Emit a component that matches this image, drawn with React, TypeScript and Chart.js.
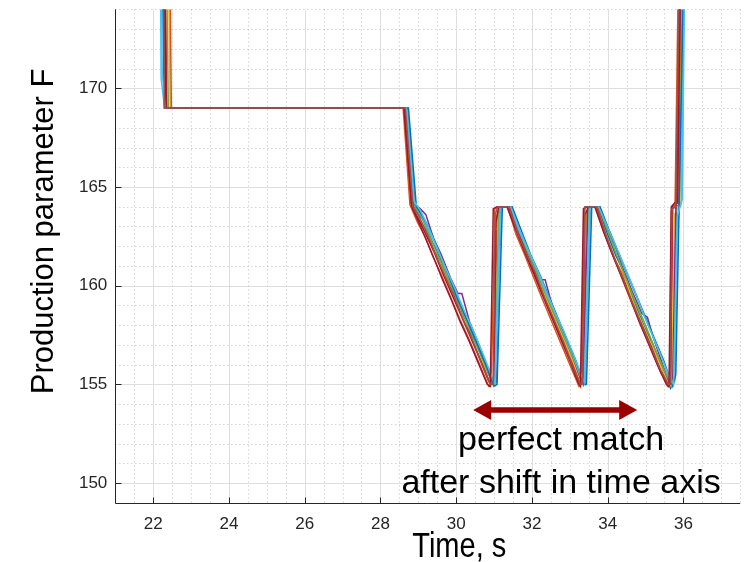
import React, { useEffect, useRef } from "react";
import { Chart, registerables } from "chart.js";

Chart.register(...registerables);

type P = [number, number];

// Axis ranges and tick labels
const X_MIN = 21;
const X_MAX = 37.5;
const Y_MIN = 149;
const Y_MAX = 174;
const xTicks = [22, 24, 26, 28, 30, 32, 34, 36];
const yTicks = [150, 155, 160, 165, 170];

// Recorded runs: [time s, parameter F]
const run1: P[] = [[22.22,180],[22.3,169],[28.7,169],[28.88,164.0],[29.0,163.6],[29.15,163.3],[29.35,162.3],[29.55,161.5],[29.8,160.2],[30.05,159.1],[30.3,157.9],[30.55,157.0],[30.8,155.8],[30.97,155.0],[31.05,155.1],[31.16,164],[31.4,164],[31.62,162.8],[31.88,161.6],[32.1,160.9],[32.35,159.5],[32.6,158.5],[32.85,157.3],[33.1,156.2],[33.32,155.0],[33.4,155.2],[33.5,164],[33.74,164],[33.98,162.7],[34.22,161.5],[34.45,160.6],[34.7,159.2],[34.95,158.0],[35.2,157.0],[35.45,155.8],[35.66,154.8],[35.72,155],[35.97,180]];
const run2: P[] = [[22.3,180],[22.36,169],[28.62,169],[28.8,164.2],[28.95,163.5],[29.2,162.8],[29.4,161.8],[29.6,161.2],[29.85,159.9],[30.1,158.7],[30.35,157.6],[30.6,156.4],[30.85,155.2],[30.92,155.0],[31.0,155.3],[31.08,163.6],[31.2,164],[31.42,164],[31.65,162.5],[31.9,161.4],[32.15,160.4],[32.4,159.2],[32.65,158.1],[32.9,157.0],[33.12,156.0],[33.28,155.0],[33.36,155.2],[33.45,163.8],[33.55,164],[33.7,164],[33.95,162.6],[34.2,161.3],[34.42,160.5],[34.68,159.0],[34.92,157.9],[35.15,156.9],[35.4,155.6],[35.6,155.0],[35.66,155.1],[35.72,163.9],[35.88,164.1],[35.96,180]];
const run3: P[] = [[22.38,180],[22.45,169],[28.66,169],[28.84,164.0],[29.0,163.3],[29.25,162.6],[29.45,161.6],[29.7,160.6],[29.95,159.5],[30.2,158.3],[30.45,157.5],[30.7,156.2],[30.9,155.0],[31.0,155.0],[31.04,162.8],[31.1,163],[31.16,164],[31.44,164],[31.7,162.4],[31.95,161.2],[32.2,160.2],[32.45,159.0],[32.7,157.9],[32.95,156.8],[33.15,155.8],[33.3,155.0],[33.36,155.0],[33.42,155.3],[33.47,164],[33.72,164],[33.97,162.5],[34.22,161.2],[34.5,160.1],[34.75,158.8],[35.0,157.7],[35.25,156.6],[35.5,155.5],[35.64,154.9],[35.7,155],[35.76,163.6],[35.95,164.3],[36.02,180]];
const run4: P[] = [[22.24,180],[22.32,169],[28.68,169],[28.9,164.1],[29.05,163.9],[29.2,163.6],[29.4,162.4],[29.6,161.6],[29.85,160.4],[30.05,159.6],[30.15,159.6],[30.35,158.2],[30.6,157.0],[30.85,155.6],[30.98,155.0],[31.06,155.1],[31.14,164],[31.42,164],[31.55,163.4],[31.75,162.2],[32.0,161.2],[32.25,160.3],[32.35,160.3],[32.55,158.9],[32.8,157.8],[33.05,156.6],[33.3,155.2],[33.35,155.0],[33.48,164],[33.75,164],[33.98,162.9],[34.2,162.0],[34.4,160.9],[34.65,159.7],[34.9,158.6],[35.05,158.4],[35.2,157.4],[35.45,156.0],[35.65,155.0],[35.72,155.2],[35.8,163.8],[35.98,180]];
const run5: P[] = [[22.33,180],[22.4,169],[28.72,169],[28.92,164.0],[29.1,163.4],[29.3,162.5],[29.55,161.4],[29.8,160.3],[30.05,159.2],[30.3,158.1],[30.55,156.9],[30.8,155.8],[30.95,155.1],[31.02,155.0],[31.12,163.5],[31.2,164],[31.46,164],[31.7,162.6],[31.92,161.5],[32.18,160.4],[32.42,159.3],[32.68,158.2],[32.92,157.1],[33.16,156.0],[33.34,155.1],[33.4,155.0],[33.52,164],[33.76,164],[34.0,162.8],[34.25,161.5],[34.5,160.3],[34.75,159.1],[35.0,158.0],[35.25,156.8],[35.5,155.7],[35.68,155.0],[35.75,155.3],[35.82,162.5],[35.9,164],[36.0,180]];
const run6: P[] = [[22.18,180],[22.21,170.5],[22.3,169],[28.7,169],[28.9,164.2],[29.08,163.6],[29.3,162.7],[29.5,161.9],[29.75,160.7],[30.0,159.6],[30.25,158.4],[30.5,157.4],[30.75,156.2],[30.95,155.2],[31.04,155.0],[31.12,160],[31.2,164],[31.45,164],[31.68,162.7],[31.9,161.8],[32.15,160.7],[32.38,159.6],[32.62,158.6],[32.86,157.5],[33.1,156.4],[33.33,155.2],[33.4,155.0],[33.55,164],[33.78,164],[34.02,162.9],[34.25,161.8],[34.5,160.6],[34.75,159.5],[35.0,158.3],[35.25,157.2],[35.5,156.0],[35.7,154.9],[35.78,155.2],[35.86,163.8],[35.95,164.2],[36.04,180]];
const run7: P[] = [[22.26,180],[22.33,169],[28.64,169],[28.82,164.0],[29.0,163.4],[29.2,162.6],[29.42,161.7],[29.65,160.6],[29.9,159.5],[30.15,158.4],[30.4,157.3],[30.65,156.2],[30.88,155.1],[30.94,155.0],[31.0,155.2],[31.05,163.2],[31.12,164],[31.38,164],[31.6,162.8],[31.84,161.7],[32.08,160.6],[32.32,159.4],[32.56,158.3],[32.8,157.2],[33.05,156.1],[33.27,155.0],[33.33,155.1],[33.4,163.6],[33.5,164],[33.7,164],[33.93,162.6],[34.17,161.4],[34.4,160.4],[34.65,159.1],[34.9,158.0],[35.15,156.9],[35.4,155.7],[35.6,154.9],[35.66,155.1],[35.71,164.0],[35.85,164.2],[35.94,180]];
const run8: P[] = [[22.42,180],[22.48,169],[28.6,169],[28.78,164.1],[28.98,163.2],[29.18,162.5],[29.38,161.5],[29.62,160.5],[29.88,159.3],[30.12,158.2],[30.38,157.1],[30.62,156.0],[30.86,154.9],[30.93,155.0],[31.02,163.9],[31.14,164],[31.36,164],[31.58,162.6],[31.8,161.6],[32.05,160.4],[32.28,159.3],[32.52,158.2],[32.76,157.1],[33.0,156.0],[33.24,154.9],[33.3,155.0],[33.38,163.9],[33.48,164],[33.68,164],[33.9,162.7],[34.14,161.5],[34.37,160.4],[34.6,159.3],[34.85,158.1],[35.1,157.0],[35.34,155.9],[35.58,154.9],[35.64,155.0],[35.68,163.8],[35.78,164.1],[35.9,180]];
const run9: P[] = [[22.2,180],[22.3,169],[28.74,169],[28.95,164.0],[29.12,163.5],[29.32,162.8],[29.55,161.7],[29.78,160.6],[30.02,159.4],[30.28,158.3],[30.52,157.2],[30.78,156.0],[31.0,154.9],[31.08,155.0],[31.22,164],[31.48,164],[31.72,162.8],[31.96,161.6],[32.2,160.6],[32.44,159.5],[32.68,158.4],[32.92,157.3],[33.16,156.2],[33.38,155.0],[33.44,155.0],[33.58,164],[33.8,164],[34.04,162.8],[34.28,161.7],[34.52,160.6],[34.76,159.5],[35.0,158.4],[35.24,157.3],[35.48,156.2],[35.72,154.9],[35.8,155.5],[36.05,180]];
const run10: P[] = [[22.2,180],[22.24,170.8],[22.32,169],[28.68,169],[28.88,164.3],[29.06,163.8],[29.26,163.0],[29.48,162.0],[29.72,160.9],[29.96,159.9],[30.22,158.7],[30.46,157.7],[30.72,156.5],[30.96,155.3],[31.02,155.1],[31.16,164],[31.44,164],[31.66,162.9],[31.88,161.9],[32.12,160.9],[32.36,159.8],[32.6,158.7],[32.84,157.7],[33.08,156.6],[33.32,155.4],[33.38,155.1],[33.52,164],[33.76,164],[33.99,163.0],[34.22,162.0],[34.46,160.9],[34.7,159.8],[34.94,158.6],[35.18,157.5],[35.42,156.4],[35.66,155.2],[35.74,155.0],[35.84,163.5],[35.97,164.4],[36.06,180]];
const run11: P[] = [[22.28,180],[22.35,169],[28.62,169],[28.83,164.0],[28.99,163.3],[29.19,162.4],[29.41,161.4],[29.64,160.3],[29.87,159.3],[30.1,158.2],[30.34,157.2],[30.58,156.1],[30.82,155.0],[30.9,154.9],[30.98,163.9],[31.08,164],[31.34,164],[31.56,162.9],[31.79,161.8],[32.03,160.7],[32.26,159.6],[32.5,158.5],[32.74,157.4],[32.98,156.3],[33.22,155.1],[33.28,154.9],[33.36,163.9],[33.46,164],[33.66,164],[33.88,162.8],[34.12,161.6],[34.36,160.5],[34.59,159.4],[34.83,158.2],[35.07,157.1],[35.31,156.0],[35.55,155.0],[35.62,154.9],[35.68,164.0],[35.82,164.3],[35.92,180]];
const run12: P[] = [[22.25,180],[22.3,169],[28.66,169],[28.86,164.0],[29.02,163.5],[29.22,162.7],[29.45,161.6],[29.7,160.5],[29.92,159.6],[30.18,158.3],[30.42,157.3],[30.68,156.0],[30.9,155.0],[30.98,155.0],[31.03,163.6],[31.1,164],[31.4,164],[31.62,162.7],[31.86,161.6],[32.1,160.6],[32.33,159.4],[32.58,158.3],[32.82,157.2],[33.06,156.0],[33.28,155.0],[33.34,155.0],[33.4,164],[33.52,164],[33.72,164],[33.95,162.6],[34.18,161.4],[34.42,160.3],[34.66,159.1],[34.9,158.0],[35.14,156.9],[35.38,155.8],[35.6,155.0],[35.66,155.0],[35.7,163.9],[35.8,164],[35.93,180]];

// Runs in plotting order (later ones drawn on top)
const runs: P[][] = [run1, run2, run3, run4, run5, run6, run7, run8, run9, run10, run11, run12];
const runColors = ["#0072BD", "#D95319", "#EDB120", "#7E2F8E", "#77AC30", "#4DBEEE", "#A2142F", "#D95319", "#0072BD", "#4DBEEE", "#A2142F", "#9A524C"];

// Annotation (data coordinates)
const arrowStart = 30.45;
const arrowEnd = 34.78;
const arrowLevel = 153.7;
const noteLines = ["perfect match", "after shift in time axis"];
const noteTime = 32.77;
const noteLevels = [151.67, 149.49];

const yTitle = "Production parameter F";
const xTitle = "Time, s";

const SANS = '"Liberation Sans", Arial, Helvetica, sans-serif';

const decor = {
  id: "decor",
  beforeDatasetsDraw(chart: any) {
    const { ctx, chartArea: a, scales } = chart;
    const x = scales.x;
    const y = scales.y;
    ctx.save();
    const seg = (x1: number, y1: number, x2: number, y2: number) => {
      ctx.beginPath();
      ctx.moveTo(x1, y1);
      ctx.lineTo(x2, y2);
      ctx.stroke();
    };
    // minor grid (dotted)
    ctx.lineWidth = 1;
    ctx.setLineDash([1, 3]);
    ctx.strokeStyle = "rgba(0,0,0,0.25)";
    for (let v = X_MIN; v <= X_MAX + 1e-9; v += 0.5) {
      if (xTicks.includes(v)) continue;
      const px = Math.round(x.getPixelForValue(v)) + 0.5;
      seg(px, a.top, px, a.bottom);
    }
    for (let v = Y_MIN + 1; v <= Y_MAX + 1e-9; v += 1) {
      if (yTicks.includes(v)) continue;
      const py = Math.round(y.getPixelForValue(v)) + 0.5;
      seg(a.left, py, a.right, py);
    }
    // major grid (solid)
    ctx.setLineDash([]);
    ctx.strokeStyle = "#dedede";
    for (const v of xTicks) {
      const px = Math.round(x.getPixelForValue(v)) + 0.5;
      seg(px, a.top, px, a.bottom);
    }
    for (const v of yTicks) {
      const py = Math.round(y.getPixelForValue(v)) + 0.5;
      seg(a.left, py, a.right, py);
    }
    ctx.restore();
  },
  afterDatasetsDraw(chart: any) {
    const { ctx, chartArea: a, scales } = chart;
    const x = scales.x;
    const y = scales.y;
    ctx.save();
    const seg = (x1: number, y1: number, x2: number, y2: number) => {
      ctx.beginPath();
      ctx.moveTo(x1, y1);
      ctx.lineTo(x2, y2);
      ctx.stroke();
    };
    // axes and inward ticks
    ctx.strokeStyle = "#262626";
    ctx.lineWidth = 1;
    const lx = Math.round(a.left) + 0.5;
    const by = Math.round(a.bottom) + 0.5;
    seg(lx, a.top, lx, by);
    seg(lx, by, a.right, by);
    for (const v of xTicks) {
      const px = Math.round(x.getPixelForValue(v)) + 0.5;
      seg(px, by, px, by - 6);
    }
    for (const v of yTicks) {
      const py = Math.round(y.getPixelForValue(v)) + 0.5;
      seg(lx, py, lx + 6, py);
    }

    // double-headed arrow
    const x1 = x.getPixelForValue(arrowStart);
    const x2 = x.getPixelForValue(arrowEnd);
    const ay = y.getPixelForValue(arrowLevel);
    const headL = 18;
    const headH = 10;
    const shaft = 2.7;
    ctx.fillStyle = "#990000";
    ctx.beginPath();
    ctx.moveTo(x1, ay);
    ctx.lineTo(x1 + headL, ay - headH);
    ctx.lineTo(x1 + headL, ay - shaft);
    ctx.lineTo(x2 - headL, ay - shaft);
    ctx.lineTo(x2 - headL, ay - headH);
    ctx.lineTo(x2, ay);
    ctx.lineTo(x2 - headL, ay + headH);
    ctx.lineTo(x2 - headL, ay + shaft);
    ctx.lineTo(x1 + headL, ay + shaft);
    ctx.lineTo(x1 + headL, ay + headH);
    ctx.closePath();
    ctx.fill();

    // annotation text
    ctx.fillStyle = "#000";
    ctx.font = `34px ${SANS}`;
    ctx.textAlign = "center";
    ctx.textBaseline = "alphabetic";
    noteLines.forEach((t, i) => {
      ctx.fillText(t, x.getPixelForValue(noteTime), y.getPixelForValue(noteLevels[i]));
    });

    // x axis title (narrow lettering)
    ctx.save();
    ctx.translate(a.left + 344, a.bottom + 54.5);
    ctx.scale(0.83, 1);
    ctx.font = `35px ${SANS}`;
    ctx.textAlign = "center";
    ctx.fillText(xTitle, 0, 0);
    ctx.restore();

    // y axis title
    ctx.translate(a.left - 62, a.top + 222);
    ctx.rotate(-Math.PI / 2);
    ctx.font = `31px ${SANS}`;
    ctx.textAlign = "center";
    ctx.fillText(yTitle, 0, 0);
    ctx.restore();
  },
};

export default function App() {
  const ref = useRef<HTMLCanvasElement | null>(null);
  useEffect(() => {
    if (!ref.current) return;
    const n = runs.length;
    const chart = new Chart(ref.current, {
      type: "line",
      data: {
        datasets: runs.map((r, i) => ({
          data: r.map(([t, v]) => ({ x: t, y: v })),
          borderColor: runColors[i],
          borderWidth: 1.5,
          pointRadius: 0,
          tension: 0,
          fill: false,
          // Chart.js paints lower "order" last; keep later runs on top
          order: n - i,
        })),
      },
      options: {
        responsive: false,
        animation: false,
        events: [],
        layout: { padding: { top: 9.4, right: 5.8, left: 0, bottom: 0 } },
        plugins: { legend: { display: false }, tooltip: { enabled: false } },
        scales: {
          x: {
            type: "linear",
            min: X_MIN,
            max: X_MAX,
            grid: { display: false, drawTicks: false },
            border: { display: false },
            ticks: {
              color: "#262626",
              font: { family: SANS, size: 17 },
              padding: 11,
              maxRotation: 0,
              autoSkip: false,
            },
            afterBuildTicks: (scale: any) => {
              scale.ticks = xTicks.map((v) => ({ value: v }));
            },
            afterFit: (scale: any) => {
              scale.height = 59.3;
              scale.paddingLeft = 0;
              scale.paddingRight = 0;
            },
          },
          y: {
            type: "linear",
            min: Y_MIN,
            max: Y_MAX,
            grid: { display: false, drawTicks: false },
            border: { display: false },
            ticks: {
              color: "#262626",
              font: { family: SANS, size: 17 },
              padding: 8,
              autoSkip: false,
            },
            afterBuildTicks: (scale: any) => {
              scale.ticks = yTicks.map((v) => ({ value: v }));
            },
            afterFit: (scale: any) => {
              scale.width = 115.3;
              scale.paddingTop = 0;
              scale.paddingBottom = 0;
            },
          },
        },
      },
      plugins: [decor],
    } as any);
    return () => chart.destroy();
  }, []);
  return (
    <div style={{ position: "absolute", left: 0, top: 0, width: 746, height: 562, background: "#fff" }}>
      <canvas ref={ref} width={746} height={562} style={{ display: "block" }} />
    </div>
  );
}
